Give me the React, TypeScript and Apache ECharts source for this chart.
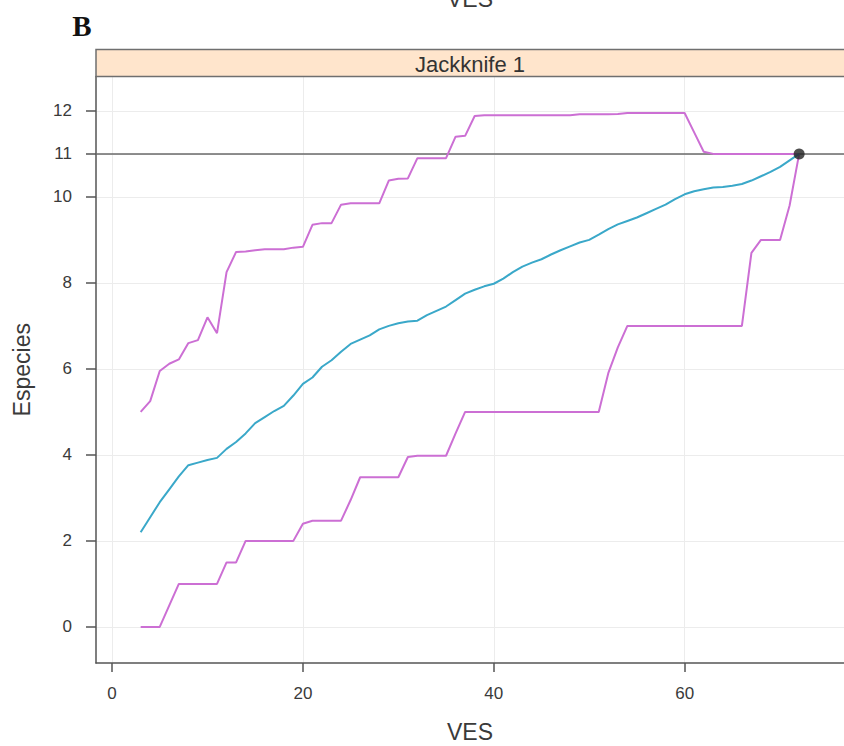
import React, { useEffect, useRef } from "react";
import * as echarts from "echarts";

// Sampling effort (VES) and species accumulation (Jackknife 1)
const ves = [
  3, 4, 5, 6, 7, 8, 9, 10, 11, 12,
  13, 14, 15, 16, 17, 18, 19, 20, 21, 22,
  23, 24, 25, 26, 27, 28, 29, 30, 31, 32,
  33, 34, 35, 36, 37, 38, 39, 40, 41, 42,
  43, 44, 45, 46, 47, 48, 49, 50, 51, 52,
  53, 54, 55, 56, 57, 58, 59, 60, 61, 62,
  63, 64, 65, 66, 67, 68, 69, 70, 71, 72,
];

const upperBound = [
  5.0, 5.25, 5.95, 6.12, 6.22, 6.6, 6.67, 7.2, 6.83, 8.25,
  8.72, 8.73, 8.76, 8.78, 8.78, 8.78, 8.82, 8.84, 9.35, 9.39,
  9.39, 9.82, 9.85, 9.85, 9.85, 9.85, 10.38, 10.42, 10.43, 10.9,
  10.9, 10.9, 10.9, 11.4, 11.42, 11.88, 11.9, 11.9, 11.9, 11.9,
  11.9, 11.9, 11.9, 11.9, 11.9, 11.9, 11.92, 11.92, 11.92, 11.92,
  11.93, 11.95, 11.95, 11.95, 11.95, 11.95, 11.95, 11.95, 11.5, 11.05,
  11, 11, 11, 11, 11, 11, 11, 11, 11, 11,
];

const lowerBound = [
  0, 0, 0, 0.5, 1.0, 1.0, 1.0, 1.0, 1.0, 1.5,
  1.5, 2.0, 2.0, 2.0, 2.0, 2.0, 2.0, 2.4, 2.47, 2.47,
  2.47, 2.47, 2.95, 3.48, 3.48, 3.48, 3.48, 3.48, 3.95, 3.98,
  3.98, 3.98, 3.98, 4.5, 5.0, 5.0, 5.0, 5.0, 5.0, 5.0,
  5.0, 5.0, 5.0, 5.0, 5.0, 5.0, 5.0, 5.0, 5.0, 5.9,
  6.5, 7.0, 7.0, 7.0, 7.0, 7.0, 7.0, 7.0, 7.0, 7.0,
  7.0, 7.0, 7.0, 7.0, 8.7, 9.0, 9.0, 9.0, 9.8, 11.0,
];

const meanRichness = [
  2.2, 2.55, 2.9, 3.2, 3.5, 3.76, 3.82, 3.88, 3.93, 4.14,
  4.3, 4.5, 4.74, 4.88, 5.02, 5.14, 5.38, 5.65, 5.8, 6.05,
  6.2, 6.4, 6.58, 6.68, 6.78, 6.92, 7.0, 7.06, 7.1, 7.12,
  7.25, 7.35, 7.45, 7.6, 7.75, 7.84, 7.92, 7.98, 8.1, 8.25,
  8.38, 8.47, 8.55, 8.66, 8.76, 8.85, 8.94, 9.0, 9.12, 9.25,
  9.36, 9.44, 9.52, 9.62, 9.72, 9.82, 9.95, 10.06, 10.13, 10.18,
  10.22, 10.23, 10.26, 10.3, 10.38, 10.48, 10.58, 10.7, 10.85, 11.0,
];

const observedRichness = 11;
const xTickValues = [0, 20, 40, 60];
const yTickValues = [0, 2, 4, 6, 8, 10, 11, 12];
const panelTitle = "Jackknife 1";
const xTitle = "VES";
const yTitle = "Especies";
const figureLetter = "B";

const SANS = "'Liberation Sans', Arial, Helvetica, sans-serif";
const MAGENTA = "#cc6fd4";
const CYAN = "#3aa8c9";

export default function App() {
  const ref = useRef<HTMLDivElement>(null);

  useEffect(() => {
    document.body.style.margin = "0";
    if (!ref.current) return;
    const chart = echarts.init(ref.current, undefined, { renderer: "svg" });

    const pairs = (ys: number[]) => ves.map((x, i) => [x, ys[i]]);

    const gridLeft = 96;
    const gridTop = 76.5;
    const gridBottom = 83;
    const W = 844;

    chart.setOption({
      animation: false,
      backgroundColor: "#ffffff",
      grid: {
        left: gridLeft,
        right: 0,
        top: gridTop,
        bottom: gridBottom,
        containLabel: false,
        outerBoundsMode: "none",
      },
      xAxis: {
        type: "value",
        min: -1.68,
        max: 76.7,
        name: xTitle,
        nameLocation: "middle",
        nameGap: 57,
        nameTextStyle: { fontFamily: SANS, fontSize: 23, color: "#3a3a3a" },
        axisLine: { show: true, onZero: false, lineStyle: { color: "#555", width: 1.5 } },
        axisTick: { show: true, length: 9, customValues: xTickValues, lineStyle: { color: "#555", width: 1.5 } },
        axisLabel: { customValues: xTickValues, margin: 22, fontFamily: SANS, fontSize: 17, color: "#3a3a3a" },
        splitLine: { show: true, lineStyle: { color: "#ececec", width: 1 } },
      },
      yAxis: {
        type: "value",
        min: -0.84,
        max: 12.8,
        name: yTitle,
        nameLocation: "middle",
        nameRotate: 90,
        nameGap: 63,
        nameTextStyle: { fontFamily: SANS, fontSize: 23, color: "#3a3a3a" },
        axisLine: { show: true, onZero: false, lineStyle: { color: "#555", width: 1.5 } },
        axisTick: { show: true, length: 10, customValues: yTickValues, lineStyle: { color: "#555", width: 1.5 } },
        axisLabel: { customValues: yTickValues, margin: 24, fontFamily: SANS, fontSize: 17, color: "#3a3a3a" },
        splitLine: { show: true, lineStyle: { color: "#ececec", width: 1 } },
      },
      series: [
        {
          type: "line",
          name: "lower",
          data: pairs(lowerBound),
          symbol: "none",
          lineStyle: { color: MAGENTA, width: 2 },
          z: 3,
        },
        {
          type: "line",
          name: "upper",
          data: pairs(upperBound),
          symbol: "none",
          lineStyle: { color: MAGENTA, width: 2 },
          z: 3,
        },
        {
          type: "line",
          name: "mean",
          data: pairs(meanRichness),
          symbol: "none",
          lineStyle: { color: CYAN, width: 2 },
          z: 4,
          markLine: {
            silent: true,
            symbol: "none",
            label: { show: false },
            lineStyle: { color: "#6a6a6a", width: 1.5, type: "solid" },
            data: [{ yAxis: observedRichness }],
            z: 2,
          },
        },
        {
          type: "scatter",
          name: "observed",
          data: [[ves[ves.length - 1], observedRichness]],
          symbol: "circle",
          symbolSize: 11,
          itemStyle: { color: "#222" },
          z: 5,
        },
      ],
      graphic: [
        {
          type: "rect",
          shape: { x: gridLeft, y: 49.5, width: W - gridLeft + 2, height: gridTop - 49.5 },
          style: { fill: "#ffe5cc", stroke: "#6f6f6f", lineWidth: 1.5 },
          z: 10,
        },
        {
          type: "text",
          x: (gridLeft + W) / 2,
          y: (49.5 + gridTop) / 2 + 1,
          style: {
            text: panelTitle,
            fontFamily: SANS,
            fontSize: 22,
            fill: "#333",
            align: "center",
            verticalAlign: "middle",
          },
          z: 11,
        },
        {
          type: "text",
          x: 82,
          y: 26,
          style: {
            text: figureLetter,
            fontFamily: "'Liberation Serif', 'Times New Roman', serif",
            fontWeight: "bold",
            fontSize: 29,
            fill: "#111",
            align: "center",
            verticalAlign: "middle",
          },
          z: 11,
        },
        {
          type: "text",
          x: (gridLeft + W) / 2,
          y: -1,
          style: {
            text: xTitle,
            fontFamily: SANS,
            fontSize: 23,
            fill: "#3a3a3a",
            align: "center",
            verticalAlign: "middle",
          },
          z: 11,
        },
      ],
    });

    return () => chart.dispose();
  }, []);

  return <div ref={ref} style={{ width: 844, height: 746 }} />;
}
